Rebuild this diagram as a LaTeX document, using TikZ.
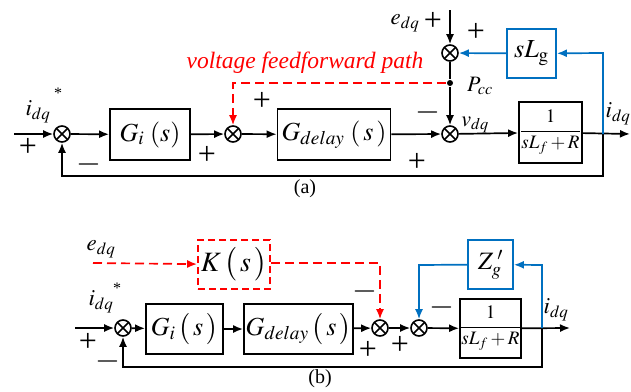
\documentclass[tikz,border=0pt]{standalone}
\usepackage{amsmath}
\usepackage{mathptmx}
\usepackage{fontspec}
\setmainfont{Liberation Serif}
\usetikzlibrary{arrows.meta}
\definecolor{myblue}{RGB}{0,112,192}
\begin{document}
\begin{tikzpicture}[x=1pt,y=-1pt,
 line width=1.7pt,
 >={Latex[length=10pt,width=8pt]},
 sumnode/.style={circle,draw,minimum size=16pt,inner sep=0pt,line width=1.6pt,
   path picture={\draw[line width=1.6pt] (path picture bounding box.north west)--(path picture bounding box.south east)
   (path picture bounding box.north east)--(path picture bounding box.south west);}},
 blk/.style={draw,rectangle,inner sep=0pt,line width=1.8pt},
 bigtxt/.style={font=\fontsize{26}{28}\selectfont},
 lbl/.style={font=\fontsize{23}{25}\selectfont, inner sep=0pt},
 sgn/.style={font=\fontsize{32}{34}\selectfont, inner sep=0pt},
 fb/.style={myblue},
 ff/.style={red,dash pattern=on 9pt off 5pt},
]
\useasboundingbox (0,0) rectangle (631,391);
% ---------------- (a) ----------------
\node[sumnode] (s1) at (62,134) {};
\node[blk,bigtxt,minimum width=80pt,minimum height=51pt] (gi) at (150,134.5) {$G_i\;(s)$};
\node[sumnode] (s2) at (233,134) {};
\node[blk,bigtxt,minimum width=113pt,minimum height=51pt] (gd) at (334,134.5) {$G_{delay}\;(\,s\,)$};
\node[sumnode] (s3) at (450,134) {};
\node[sumnode] (s4) at (450,53) {};
\node[circle,fill,inner sep=0pt,minimum size=6pt] (pcc) at (450,83) {};
\node[blk,minimum width=63pt,minimum height=61pt,font=\fontsize{19}{21}\selectfont] (plant) at (550.5,132.5) {$\dfrac{1}{sL_f+R}$};
\node[blk,draw=myblue,minimum width=49pt,minimum height=49pt,font=\fontsize{26}{28}\selectfont] (slg) at (531.5,53.5) {$sL_{\mathrm{g}}$};
\coordinate (ain) at (14,134);
\coordinate (aout) at (630,134);
\coordinate (br) at (603,134);
\coordinate (fbA) at (603,176);
\coordinate (etop) at (450,10);
\coordinate (bcor) at (603,53);
\coordinate (rcor) at (233,83);
\draw[->] (ain) -- (s1);
\draw[->] (s1) -- (gi);
\draw[->] (gi) -- (s2);
\draw[->] (s2) -- (gd);
\draw[->] (gd) -- (s3);
\draw[->] (s3) -- (plant);
\draw[->] (plant) -- (aout);
\draw[->] (br) -- (fbA) -| (s1.south);
\draw[->] (etop) -- (s4);
\draw (s4) -- (pcc);
\draw[->] (pcc) -- (s3);
\draw[fb,->] (br) -- (bcor) -- (slg);
\draw[fb,->] (slg) -- (s4);
\draw[ff,->] (pcc) -- (rcor) -- (s2);
\node[lbl] (tidqa) at (38,112) {$i_{dq}$};
\node[inner sep=0pt,font=\fontsize{16}{18}\selectfont] (tstara) at (58,93) {*};
\node[sgn] (pa1) at (28,147) {+};
\node[sgn] (ma1) at (89,164) {$-$};
\node[sgn] (pa2) at (207,155) {+};
\node[sgn] (pa3) at (262,101) {+};
\node[red,inner sep=0pt,font=\fontsize{23.5}{25}\selectfont\itshape] (tff) at (305,63) {voltage feedforward path};
\node[lbl] (teda) at (405,23) {$e_{dq}$};
\node[sgn] (pa4) at (433,21) {+};
\node[sgn] (pa5) at (476,32) {+};
\node[lbl,font=\fontsize{22}{24}\selectfont] (tpcc) at (480,86) {$P_{cc}$};
\node[sgn] (ma2) at (428,112) {$-$};
\node[lbl,font=\fontsize{22}{24}\selectfont] (tvdq) at (475,125) {$v_{dq}$};
\node[lbl] (tidqa2) at (618,114) {$i_{dq}$};
\node[sgn] (pa6) at (417,162) {+};
\node[inner sep=0pt,font=\fontsize{20}{22}\selectfont] (capa) at (305,189) {(a)};
% ---------------- (b) ----------------
\node[sumnode] (b1) at (123,328) {};
\node[blk,bigtxt,minimum width=77pt,minimum height=50pt] (bgi) at (184.5,329) {$G_i\,\bigl(\,s\,\bigr)$};
\node[blk,bigtxt,minimum width=109pt,minimum height=50pt] (bgd) at (298.5,329) {$G_{delay}\,\bigl(\,s\,\bigr)$};
\node[sumnode] (b2) at (380,328) {};
\node[sumnode] (b3) at (419,328) {};
\node[blk,minimum width=61pt,minimum height=59pt,font=\fontsize{19}{21}\selectfont] (bplant) at (490.5,328.5) {$\dfrac{1}{sL_f+R}$};
\node[blk,draw=myblue,minimum width=45pt,minimum height=49pt,font=\fontsize{25}{27}\selectfont] (zg) at (490.5,264.5) {$Z_g^{\;\prime}$};
\node[blk,draw=red,dash pattern=on 7pt off 4pt,minimum width=72pt,minimum height=49pt,font=\fontsize{28}{30}\selectfont] (ks) at (234,264.5) {$K\,\bigl(\,s\,\bigr)$};
\coordinate (bin) at (75,328);
\coordinate (bout) at (570,328);
\coordinate (bbr) at (542,328);
\coordinate (bfb) at (542,367);
\coordinate (bbcor) at (542,265);
\coordinate (bbcor2) at (419,265);
\coordinate (bein) at (93,263);
\coordinate (brcor) at (380,263);
\draw[->] (bin) -- (b1);
\draw[->] (b1) -- (bgi);
\draw[->] (bgi) -- (bgd);
\draw[->] (bgd) -- (b2);
\draw[->] (b2) -- (b3);
\draw[->] (b3) -- (bplant);
\draw[->] (bplant) -- (bout);
\draw[->] (bbr) -- (bfb) -| (b1.south);
\draw[fb,->] (bbr) -- (bbcor) -- (zg);
\draw[fb,->] (zg) -- (bbcor2) -- (b3);
\draw[ff,->] (bein) -- (ks);
\draw[ff,->] (ks.east |- brcor) -- (brcor) -- (b2);
\node[lbl] (tedb) at (101,249) {$e_{dq}$};
\node[lbl] (tidqb) at (101,302) {$i_{dq}$};
\node[inner sep=0pt,font=\fontsize{16}{18}\selectfont] (tstarb) at (117,288) {*};
\node[sgn] (pb1) at (88,342) {+};
\node[sgn] (mb1) at (108,361) {$-$};
\node[sgn] (mb2) at (365,291) {$-$};
\node[sgn] (pb2) at (368,350) {+};
\node[sgn] (pb3) at (400,345) {+};
\node[sgn] (mb3) at (442,307) {$-$};
\node[lbl] (tidqb2) at (556,310) {$i_{dq}$};
\node[inner sep=0pt,font=\fontsize{20}{22}\selectfont] (capb) at (320,379) {(b)};
\end{tikzpicture}
\end{document}
